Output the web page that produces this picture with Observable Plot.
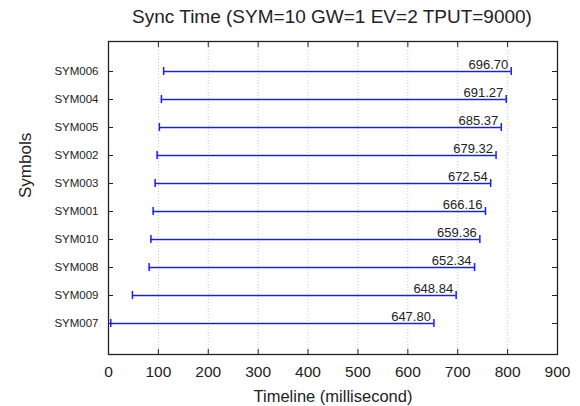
<!DOCTYPE html>
<html>
<head>
<meta charset="utf-8">
<script src="https://cdn.jsdelivr.net/npm/d3@7"></script>
<script src="https://cdn.jsdelivr.net/npm/@observablehq/plot@0.6"></script>
<style>
  body { margin: 0; background: #fff; font-family: "Liberation Sans", Arial, Helvetica, sans-serif; }
  #title { width: 580px; height: 34px; line-height: 34px; font-size: 19px; color: #222;
           text-align: center; padding-left: 84px; box-sizing: border-box; white-space: nowrap; }
  svg { display: block; }
</style>
</head>
<body>
<div id="title">Sync Time (SYM=10 GW=1 EV=2 TPUT=9000)</div>
<div id="chart"></div>
<script>
const symbols   = ["SYM006","SYM004","SYM005","SYM002","SYM003","SYM001","SYM010","SYM008","SYM009","SYM007"];
const starts    = [110.5, 106, 102, 97.5, 93.5, 89.5, 85, 81.5, 48, 4.5];
const durations = [696.70, 691.27, 685.37, 679.32, 672.54, 666.16, 659.36, 652.34, 648.84, 647.80];
const xTicks    = [0, 100, 200, 300, 400, 500, 600, 700, 800, 900];
const xLabel = "Timeline (millisecond)";
const yLabel = "Symbols";

const rows = symbols.map((s, i) => ({sym: s, start: starts[i], end: starts[i] + durations[i], dur: durations[i]}));

const blue = "#1a1aff";
const font = "Liberation Sans, Arial, Helvetica, sans-serif";

const chart = Plot.plot({
  width: 580,
  height: 372,
  marginTop: 7,
  marginBottom: 52,
  marginLeft: 108,
  marginRight: 23,
  style: {fontFamily: font, color: "#222", background: "#fff"},
  x: {domain: [0, 900]},
  y: {type: "band", domain: symbols, paddingInner: 0.7, paddingOuter: 0.85},
  marks: [
    Plot.gridX(xTicks, {stroke: "#bbb", strokeOpacity: 1, strokeDasharray: "1,2", strokeWidth: 0.8}),
    Plot.ruleX(xTicks, {x: d => d, insetTop: 308, stroke: "#222", strokeWidth: 1}),
    Plot.ruleX(xTicks, {x: d => d, insetBottom: 307, stroke: "#222", strokeWidth: 1}),
    Plot.ruleY(symbols, {y: d => d, insetRight: 444, stroke: "#222", strokeWidth: 1}),
    Plot.ruleY(symbols, {y: d => d, insetLeft: 444, stroke: "#222", strokeWidth: 1}),
    Plot.axisX(xTicks, {anchor: "bottom", tickSize: 0, tickPadding: 11, fontSize: 15.5, label: null}),
    Plot.axisY(symbols, {anchor: "left", tickSize: 0, tickPadding: 10, fontSize: 11.5, label: null}),
    Plot.ruleY(rows, {y: "sym", x1: "start", x2: "end", stroke: blue, strokeWidth: 1.5}),
    Plot.tickX(rows, {x: "start", y: "sym", stroke: blue, strokeWidth: 1.5}),
    Plot.tickX(rows, {x: "end", y: "sym", stroke: blue, strokeWidth: 1.5}),
    Plot.text(rows, {x: "end", y: "sym", text: d => d.dur.toFixed(2), textAnchor: "end", lineAnchor: "bottom",
                     dx: -3, dy: -3, fontSize: 13, fill: "#222"}),
    Plot.text([xLabel], {frameAnchor: "bottom", text: d => d, lineAnchor: "bottom", dy: 47.5, fontSize: 16.5, fill: "#222"}),
    Plot.text([yLabel], {frameAnchor: "left", text: d => d, rotate: -90, dx: -83, fontSize: 17, fill: "#222"}),
    Plot.frame({stroke: "#222", strokeWidth: 1.3})
  ]
});
document.getElementById("chart").appendChild(chart);
</script>
</body>
</html>
